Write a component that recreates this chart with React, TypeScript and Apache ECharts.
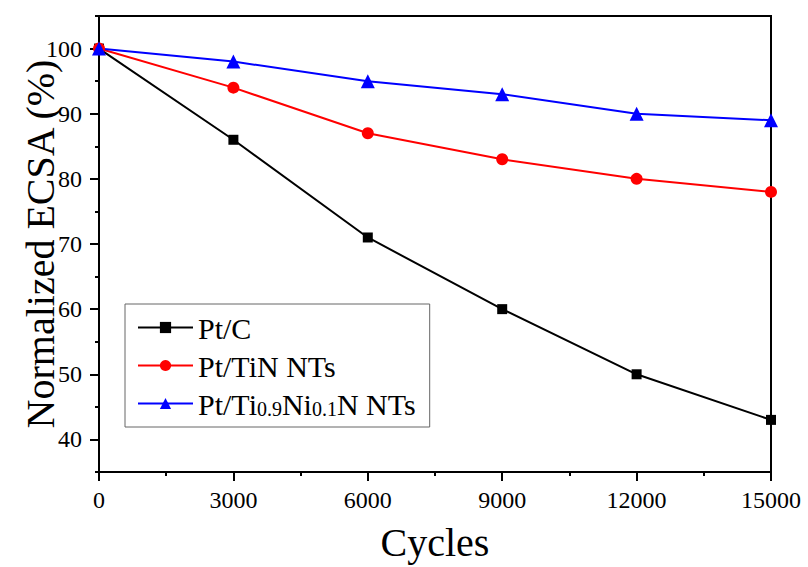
import React, { useEffect, useRef } from "react";
import * as echarts from "echarts";

const cycles = [0, 3000, 6000, 9000, 12000, 15000];
const ptC = [100, 86, 71, 60, 50, 43];
const ptTiN = [100, 94, 87, 83, 80, 78];
const ptTiNiN = [100, 98, 95, 93, 90, 89];
const seriesNames = ["Pt/C", "Pt/TiN NTs", "Pt/Ti0.9Ni0.1N NTs"];

const FONT = "'Liberation Serif', 'DejaVu Serif', serif";

export default function App() {
  const ref = useRef<HTMLDivElement>(null);
  useEffect(() => {
    if (!ref.current) return;
    const chart = echarts.init(ref.current, null, { renderer: "svg" });
    const pairs = (ys: number[]) => cycles.map((c, i) => [c, ys[i]]);
    const plotH = 567 - 16 - 95;
    const k = plotH / 70;
    chart.setOption({
      animation: false,
      backgroundColor: "#fff",
      textStyle: { fontFamily: FONT, color: "#000" },
      grid: [
        { left: 99, right: 37, top: 16, bottom: 95, show: true, borderColor: "#000", borderWidth: 2 },
        { left: 99, right: 37, top: 16 + 5 * k, bottom: 95 + 5 * k, show: false },
      ],
      xAxis: [
        {
          gridIndex: 0,
          type: "value",
          min: 0,
          max: 15000,
          interval: 3000,
          name: "Cycles",
          nameLocation: "middle",
          nameGap: 50,
          nameTextStyle: { fontFamily: FONT, fontSize: 40, color: "#000" },
          axisLine: { lineStyle: { color: "#000", width: 2 } },
          axisTick: { length: 9, lineStyle: { color: "#000", width: 2 } },
          minorTick: { show: true, splitNumber: 2, length: 4, lineStyle: { color: "#000", width: 2 } },
          axisLabel: {
            fontFamily: FONT,
            fontSize: 24,
            color: "#000",
            margin: 16,
            formatter: (v: number) => String(v),
          },
          splitLine: { show: false },
        },
        {
          gridIndex: 1,
          type: "value",
          min: 0,
          max: 15000,
          show: false,
        },
      ],
      yAxis: [
        {
          gridIndex: 0,
          type: "value",
          min: 35,
          max: 105,
          interval: 5,
          name: "Normalized ECSA (%)",
          nameLocation: "middle",
          nameGap: 39,
          nameTextStyle: { fontFamily: FONT, fontSize: 40, color: "#000" },
          axisLine: { show: true, lineStyle: { color: "#000", width: 2 } },
          axisTick: { show: true, length: 4, lineStyle: { color: "#000", width: 2 } },
          axisLabel: { show: false },
          splitLine: { show: false },
        },
        {
          gridIndex: 1,
          type: "value",
          min: 40,
          max: 100,
          interval: 10,
          axisLine: { show: false },
          axisTick: { show: true, length: 9, lineStyle: { color: "#000", width: 2 } },
          axisLabel: {
            fontFamily: FONT,
            fontSize: 24,
            color: "#000",
            margin: 17,
            formatter: (v: number) => String(v),
          },
          splitLine: { show: false },
        },
      ],
      legend: {
        orient: "vertical",
        left: 125,
        top: 304,
        padding: [9, 14, 8, 12],
        itemWidth: 55,
        itemHeight: 14,
        itemGap: 8,
        borderColor: "#666",
        borderWidth: 1,
        backgroundColor: "#fff",
        data: seriesNames,
        formatter: (name: string) =>
          name === seriesNames[2]
            ? "{a|Pt/Ti}{s|0.9}{a|Ni}{s|0.1}{a|N NTs}"
            : "{a|" + name + "}",
        textStyle: {
          fontFamily: FONT,
          fontSize: 30,
          color: "#000",
          rich: {
            a: { fontFamily: FONT, fontSize: 30, color: "#000", verticalAlign: "bottom", lineHeight: 31 },
            s: { fontFamily: FONT, fontSize: 20, color: "#000", verticalAlign: "bottom", lineHeight: 27 },
          },
        },
      },
      series: [
        {
          name: seriesNames[0],
          type: "line",
          xAxisIndex: 0,
          yAxisIndex: 0,
          data: pairs(ptC),
          symbol: "rect",
          symbolSize: 10,
          lineStyle: { color: "#000", width: 2 },
          itemStyle: { color: "#000" },
        },
        {
          name: seriesNames[1],
          type: "line",
          xAxisIndex: 0,
          yAxisIndex: 0,
          data: pairs(ptTiN),
          symbol: "circle",
          symbolSize: 12,
          lineStyle: { color: "#ff0000", width: 2 },
          itemStyle: { color: "#ff0000" },
        },
        {
          name: seriesNames[2],
          type: "line",
          xAxisIndex: 0,
          yAxisIndex: 0,
          data: pairs(ptTiNiN),
          symbol: "triangle",
          symbolSize: 14,
          lineStyle: { color: "#0000ff", width: 2 },
          itemStyle: { color: "#0000ff" },
        },
      ],
    });
    return () => chart.dispose();
  }, []);
  return <div ref={ref} style={{ width: 808, height: 567, position: "absolute", left: 0, top: 0 }} />;
}
